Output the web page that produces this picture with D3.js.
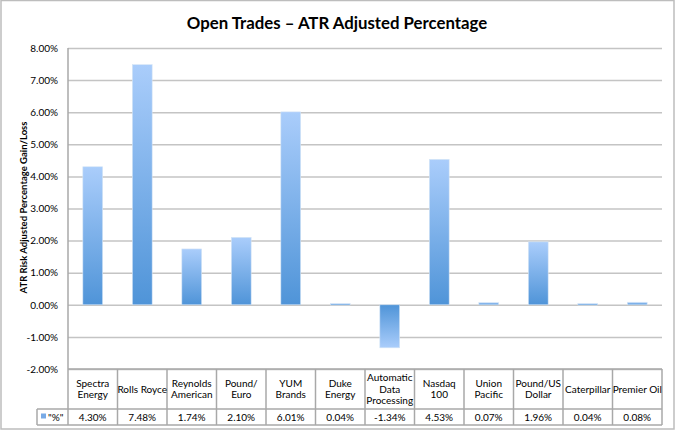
<!DOCTYPE html>
<html>
<head>
<meta charset="utf-8">
<script src="https://cdn.jsdelivr.net/npm/d3@7"></script>
<style>
  body { margin: 0; background: #fff; }
  text { font-family: Lato, "Open Sans", sans-serif; }
</style>
</head>
<body>
<div id="container"></div>
<script>
let w = 676;
let h = 431;

// chart data
let categories = ["Spectra Energy", "Rolls Royce", "Reynolds American", "Pound/ Euro", "YUM Brands",
  "Duke Energy", "Automatic Data Processing", "Nasdaq 100", "Union Pacific", "Pound/US Dollar",
  "Caterpillar", "Premier Oil"];
// header lines as shown in the table
let headerLines = [["Spectra", "Energy"], ["Rolls Royce"], ["Reynolds", "American"], ["Pound/", "Euro"],
  ["YUM", "Brands"], ["Duke", "Energy"], ["Automatic", "Data", "Processing"], ["Nasdaq", "100"],
  ["Union", "Pacific"], ["Pound/US", "Dollar"], ["Caterpillar"], ["Premier Oil"]];
let values = [4.30, 7.48, 1.74, 2.10, 6.01, 0.04, -1.34, 4.53, 0.07, 1.96, 0.04, 0.08];
let yTicks = [-2, -1, 0, 1, 2, 3, 4, 5, 6, 7, 8];
let seriesName = "\"%\"";

// layout
let plotLeft = 68, plotRight = 662, plotTop = 48, plotBottom = 369;
let row1Bottom = 409, row2Bottom = 425, legendLeft = 37;

let viz = d3.select("#container")
  .append("svg")
    .attr("width", w)
    .attr("height", h)
    .style("display", "block");

// gradients: dark at the baseline, light at the tip
let defs = viz.append("defs");
let gUp = defs.append("linearGradient").attr("id", "gradUp")
  .attr("x1", 0).attr("y1", 0).attr("x2", 0).attr("y2", 1);
gUp.append("stop").attr("offset", "0%").attr("stop-color", "#aacdfb");
gUp.append("stop").attr("offset", "100%").attr("stop-color", "#4f94d8");
let gDown = defs.append("linearGradient").attr("id", "gradDown")
  .attr("x1", 0).attr("y1", 0).attr("x2", 0).attr("y2", 1);
gDown.append("stop").attr("offset", "0%").attr("stop-color", "#4f94d8");
gDown.append("stop").attr("offset", "100%").attr("stop-color", "#aacdfb");

// outer frame
viz.append("rect")
  .attr("x", 1).attr("y", 0.5).attr("width", 673).attr("height", 428.5)
  .attr("fill", "none").attr("stroke", "#bdbdbd").attr("stroke-width", 1.5);

// title
viz.append("text")
  .attr("x", 337).attr("y", 29)
  .attr("text-anchor", "middle")
  .attr("font-size", 16.8).attr("font-weight", "bold")
  .text("Open Trades \u2013 ATR Adjusted Percentage");

// scales
let yScale = d3.scaleLinear().domain([-2, 8]).range([plotBottom, plotTop]);
let xScale = d3.scaleBand().domain(categories).range([plotLeft, plotRight])
  .paddingInner(0.6).paddingOuter(0.3);
let colScale = d3.scaleBand().domain(categories).range([plotLeft, plotRight]);

// gridlines
let grid = d3.axisLeft(yScale).tickValues(yTicks).tickSize(-(plotRight - plotLeft)).tickFormat("");
let gridGroup = viz.append("g").attr("transform", "translate(" + plotLeft + ",0)").call(grid);
gridGroup.select(".domain").remove();
gridGroup.selectAll("line").attr("stroke", "#c4c4c4").attr("stroke-width", 1.5);

// y axis labels
let yAxis = d3.axisLeft(yScale).tickValues(yTicks).tickSize(0).tickPadding(10)
  .tickFormat(function(d){ return d.toFixed(2) + "%"; });
let yAxisGroup = viz.append("g").attr("transform", "translate(" + plotLeft + ",0)").call(yAxis);
yAxisGroup.select(".domain").remove();
yAxisGroup.selectAll("text")
  .attr("font-family", "Lato, sans-serif").attr("font-size", 10).attr("fill", "#000");

// y axis title
viz.append("text")
  .attr("transform", "translate(27,207.5) rotate(-90)")
  .attr("text-anchor", "middle")
  .attr("font-size", 9.5).attr("font-weight", "bold")
  .text("ATR Risk Adjusted Percentage Gain/Loss");

// bars
viz.append("g").selectAll("rect").data(values).enter()
  .append("rect")
    .attr("x", function(d, i){ return xScale(categories[i]); })
    .attr("width", xScale.bandwidth())
    .attr("y", function(d){ return yScale(Math.max(d, 0)); })
    .attr("height", function(d){ return Math.max(1.5, Math.abs(yScale(d) - yScale(0))); })
    .attr("fill", function(d){ return d >= 0 ? "url(#gradUp)" : "url(#gradDown)"; })
    .attr("stroke", "#d4e4f6").attr("stroke-width", 0.6);

// data table
let tableColor = "#a8a8a8";
let table = viz.append("g");
// left axis line down through the table
table.append("line")
  .attr("x1", plotLeft).attr("x2", plotLeft).attr("y1", plotTop).attr("y2", row2Bottom)
  .attr("stroke", tableColor).attr("stroke-width", 1.5);
table.append("line")
  .attr("x1", plotLeft).attr("x2", plotRight).attr("y1", plotBottom).attr("y2", plotBottom)
  .attr("stroke", tableColor).attr("stroke-width", 1.5);
table.append("line")
  .attr("x1", legendLeft).attr("x2", plotRight).attr("y1", row1Bottom).attr("y2", row1Bottom)
  .attr("stroke", tableColor).attr("stroke-width", 1.5);
table.append("line")
  .attr("x1", legendLeft).attr("x2", plotRight).attr("y1", row2Bottom).attr("y2", row2Bottom)
  .attr("stroke", tableColor).attr("stroke-width", 1.5);
table.append("line")
  .attr("x1", legendLeft).attr("x2", legendLeft).attr("y1", row1Bottom).attr("y2", row2Bottom)
  .attr("stroke", tableColor).attr("stroke-width", 1.5);
table.selectAll(".col").data(categories).enter()
  .append("line").attr("class", "col")
    .attr("x1", function(d){ return colScale(d) + colScale.bandwidth(); })
    .attr("x2", function(d){ return colScale(d) + colScale.bandwidth(); })
    .attr("y1", plotBottom).attr("y2", row2Bottom)
    .attr("stroke", tableColor).attr("stroke-width", 1.5);

// header texts
let headers = table.selectAll(".hdr").data(categories).enter()
  .append("text").attr("class", "hdr")
    .attr("text-anchor", "middle")
    .attr("font-size", 10)
    .attr("x", function(d){ return colScale(d) + colScale.bandwidth() / 2; });
headers.each(function(d, i){
  let lines = headerLines[i];
  let lh = 11.8;
  let y0 = (plotBottom + row1Bottom) / 2 - (lines.length - 1) * lh / 2 + 3.5;
  d3.select(this).selectAll("tspan").data(lines).enter()
    .append("tspan")
      .attr("x", colScale(d) + colScale.bandwidth() / 2)
      .attr("y", function(l, j){ return y0 + j * lh; })
      .text(function(l){ return l; });
});

// value row
table.selectAll(".val").data(values).enter()
  .append("text").attr("class", "val")
    .attr("text-anchor", "middle")
    .attr("font-size", 10)
    .attr("x", function(d, i){ return colScale(categories[i]) + colScale.bandwidth() / 2; })
    .attr("y", (row1Bottom + row2Bottom) / 2 + 3.5)
    .text(function(d){ return d.toFixed(2) + "%"; });

// legend key
table.append("rect")
  .attr("x", 41).attr("y", 413.5).attr("width", 5).attr("height", 5)
  .attr("fill", "#78aae6");
table.append("text")
  .attr("x", 48).attr("y", (row1Bottom + row2Bottom) / 2 + 3.5)
  .attr("font-size", 10)
  .text(seriesName);
</script>
</body>
</html>
